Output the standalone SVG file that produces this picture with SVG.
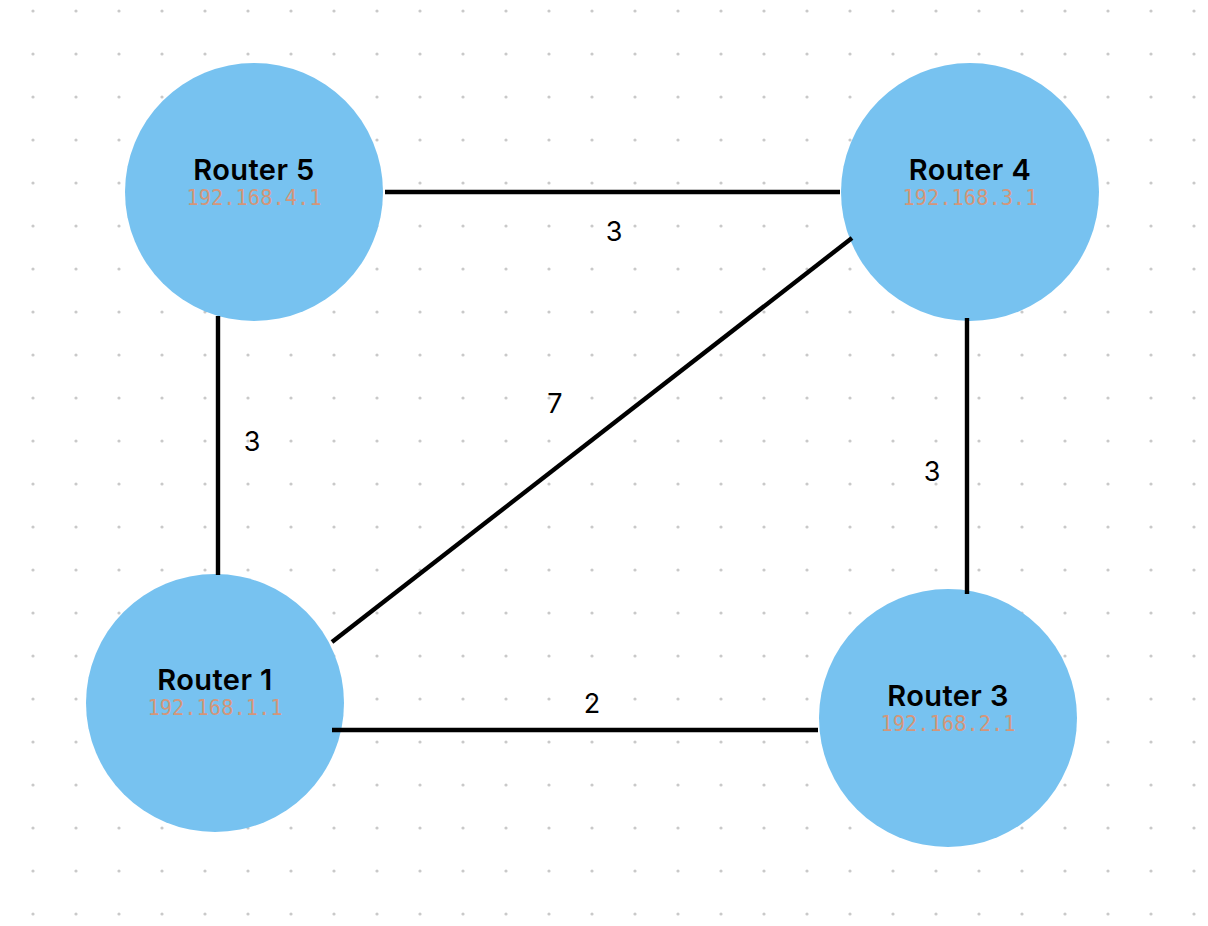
<svg xmlns="http://www.w3.org/2000/svg" width="1208" height="926" viewBox="0 0 1208 926">
<defs>
<pattern id="dots" x="0" y="0" width="43" height="43" patternUnits="userSpaceOnUse">
<circle cx="33" cy="11" r="1.6" fill="#c9c9c9"/>
</pattern>
<style>
.node{fill:#77C2F0}
.title{font-family:Inter,"Noto Sans",sans-serif;font-weight:600;font-size:29px;letter-spacing:0.4px;fill:#000;text-anchor:middle}
.ip{font-family:"DejaVu Sans Mono","Liberation Mono",monospace;font-size:20.4px;fill:#D4967A;text-anchor:middle}
.edge{stroke:#000;stroke-width:4.4;fill:none}
.elabel{font-family:Inter,"Noto Sans",sans-serif;font-size:27px;fill:#000;text-anchor:middle}
</style>
</defs>
<rect width="1208" height="926" fill="#fff"/>
<rect width="1208" height="926" fill="url(#dots)"/>
<g id="router5">
<circle class="node" cx="254" cy="192" r="129"/>
<text class="title" x="254" y="180">Router 5</text>
<text class="ip" x="254" y="205">192.168.4.1</text>
</g>
<g id="router4">
<circle class="node" cx="970" cy="192" r="129"/>
<text class="title" x="970" y="180">Router 4</text>
<text class="ip" x="970" y="205">192.168.3.1</text>
</g>
<g id="router1">
<circle class="node" cx="215" cy="703" r="129"/>
<text class="title" x="215" y="690">Router 1</text>
<text class="ip" x="215" y="715">192.168.1.1</text>
</g>
<g id="router3">
<circle class="node" cx="948" cy="718" r="129"/>
<text class="title" x="948" y="706">Router 3</text>
<text class="ip" x="948" y="731">192.168.2.1</text>
</g>
<g id="connectors">
<line class="edge" x1="385" y1="192" x2="840" y2="192"/>
<line class="edge" x1="218" y1="316" x2="218" y2="575"/>
<line class="edge" x1="852" y1="238" x2="332" y2="642"/>
<line class="edge" x1="967" y1="318" x2="967" y2="594"/>
<line class="edge" x1="332" y1="730" x2="818" y2="730"/>
<text class="elabel" x="614" y="241">3</text>
<text class="elabel" x="252" y="451">3</text>
<text class="elabel" x="555" y="413">7</text>
<text class="elabel" x="932" y="481">3</text>
<text class="elabel" x="592" y="713">2</text>
</g>
</svg>
